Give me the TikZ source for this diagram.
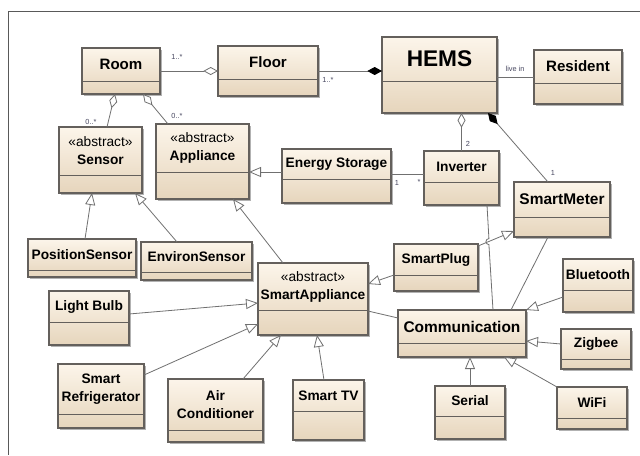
\documentclass[tikz,border=0pt]{standalone}
\usepackage{fontspec}
\setmainfont{Liberation Sans}
\usetikzlibrary{positioning, arrows.meta, calc, shadows}
\definecolor{classTop}{RGB}{252,245,234}
\definecolor{classBottom}{RGB}{230,213,188}
\definecolor{classEdge}{RGB}{100,96,92}
\definecolor{linkGray}{RGB}{112,112,112}
\definecolor{multGray}{RGB}{70,70,95}
\def\px{0.75pt}

% class box: name, x, y (top left), width, height, name compartment height, text
\newcommand{\umlclass}[7]{%
	\node[cls, anchor=north west, minimum width=#4*\px, minimum height=#5*\px] (#1) at (#2,#3) {};
	\draw[classEdge, line width=0.6pt] ($(#1.north west)+(0,#6)$) -- ($(#1.north east)+(0,#6)$);
	\node[clsname] (#1-name) at ($(#1.north)+(0,#6/2)$) {#7};
}

\begin{document}
\begin{tikzpicture}[x=0.75pt, y=-0.75pt,
				cls/.style={draw=classEdge, line width=0.8pt, top color=classTop, bottom color=classBottom, inner sep=0pt, outer sep=0pt,
					drop shadow={shadow xshift=1.2pt, shadow yshift=-1.2pt, fill=black, opacity=0.3}},
				clsname/.style={inner sep=0pt, align=center, font=\bfseries\fontsize{10.3}{13.5}\selectfont},
				big/.style={font=\bfseries\fontsize{11.4}{13}\selectfont},
				assoc/.style={draw=linkGray, line width=0.6pt},
				gen/.style={assoc, -{Triangle[length=9pt, width=7.5pt, fill=white]}},
				agg/.style={assoc, {Diamond[length=11pt, width=6pt, fill=white]}-},
				comp/.style={assoc, {Diamond[length=11pt, width=6pt, black]}-},
				mult/.style={inner sep=0pt, text=multGray, font=\fontsize{5.5}{6}\selectfont}]
	\useasboundingbox (0,0) rectangle (640,455);
	\fill[white] (0,0) rectangle (640,455);
	\draw[black!65, line width=0.6pt] (640,11) -- (8,11) -- (8,455);

	\umlclass{room}{82}{48}{78}{46}{33}{\fontsize{11.3}{13}\selectfont Room}
	\umlclass{floor}{218}{46}{100}{50}{33}{\fontsize{11.3}{13}\selectfont Floor}
	\umlclass{hems}{382}{37}{115}{76}{44}{\fontsize{17}{19}\selectfont HEMS}
	\umlclass{resident}{534}{50}{88}{54}{33}{\fontsize{11.3}{13}\selectfont Resident}
	\umlclass{sensor}{59}{127}{83}{66}{48}{{\mdseries «abstract»}\\Sensor}
	\umlclass{appliance}{156}{124}{93}{75}{48}{{\mdseries «abstract»}\\Appliance}
	\umlclass{estore}{282}{149}{109}{54}{30}{Energy Storage}
	\umlclass{inverter}{424}{151}{75}{54}{31}{Inverter}
	\umlclass{meter}{514}{182}{96}{55}{35}{\fontsize{11.6}{13}\selectfont SmartMeter}
	\umlclass{possens}{28}{239}{108}{38}{31}{PositionSensor}
	\umlclass{envsens}{141}{242}{111}{38}{30}{EnvironSensor}
	\umlclass{plug}{394}{244}{84}{47}{31}{SmartPlug}
	\umlclass{bt}{563}{259}{70}{53}{31}{Bluetooth}
	\umlclass{sapp}{258}{263}{110}{72}{47}{{\mdseries «abstract»}\\SmartAppliance}
	\umlclass{bulb}{49}{291}{80}{54}{31}{Light Bulb}
	\umlclass{comm}{398}{310}{128}{47}{33}{\fontsize{11.6}{13}\selectfont Communication}
	\umlclass{zigbee}{561}{329}{70}{40}{30}{Zigbee}
	\umlclass{fridge}{58}{364}{86}{64}{50}{Smart\\Refrigerator}
	\umlclass{aircon}{168}{379}{95}{63}{51}{Air\\Conditioner}
	\umlclass{tv}{293}{380}{71}{60}{31}{Smart TV}
	\umlclass{serial}{435}{386}{70}{53}{30}{Serial}
	\umlclass{wifi}{557}{387}{70}{42}{31}{WiFi}

	\draw[agg] (floor.west) -- (room.east);
	\draw[comp] (hems.west |- floor.east) -- (floor.east);
	\draw[assoc] (hems.east |- resident.west) -- (resident.west);
	\draw[agg] (inverter.north |- hems.south) -- (inverter.north);
	\draw[comp] ($(hems.south east)+(-9,0)$) -- ($(meter.north)+(-14,0)$);
	\draw[agg] ($(room.south)+(-6,0)$) -- ($(sensor.north)+(6.5,0)$);
	\draw[agg] ($(room.south)+(22,0)$) -- ($(appliance.north)+(-34.5,0)$);

	\draw[gen] ($(possens.north)+(3,0)$) -- ($(sensor.south)+(-8.5,0)$);
	\draw[gen] ($(envsens.north)+(-19.5,0)$) -- ($(sensor.south)+(34.5,0)$);
	\draw[gen] ($(estore.west)+(0,-4)$) coordinate (es-w) -- (es-w -| appliance.east);
	\draw[assoc] ($(estore.east)+(0,-2)$) coordinate (es-e) -- (es-e -| inverter.west);
	\draw[gen] ($(sapp.north)+(-30,0)$) -- ($(appliance.south)+(30.5,0)$);
	\draw[gen] ($(plug.west)+(0,7.5)$) -- ($(sapp.east)+(0,-15)$);
	\draw[gen] ($(plug.north east)+(0,2)$) -- ($(meter.south west)+(0,-6)$);

	\coordinate (iv-s) at ($(inverter.south)+(25.5,0)$);
	\coordinate (cm-n) at ($(comm.north)+(31,0)$);
	\draw[assoc] (iv-s) -- ($(iv-s)!0.32!(cm-n)$) arc[start angle=270, end angle=90, radius=3] -- (cm-n);
	\draw[assoc] ($(meter.south)+(-14,0)$) -- ($(comm.north)+(49,0)$);
	\draw[assoc] ($(sapp.east)+(0,12)$) -- ($(comm.west)+(0,-15.5)$);

	\draw[gen] ($(bt.south west)+(0,-15)$) -- (comm.north east);
	\draw[gen] ($(zigbee.west)+(0,-5)$) -- ($(comm.east)+(0,7.5)$);
	\draw[gen] (wifi.north west) -- ($(comm.south east)+(-22,0)$);
	\draw[gen] (serial.north) -- (serial.north |- comm.south);

	\draw[gen] ($(bulb.east)+(0,-4)$) -- ($(sapp.west)+(0,4)$);
	\draw[gen] ($(fridge.north east)+(0,11)$) -- ($(sapp.south west)+(0,-11)$);
	\draw[gen] ($(aircon.north east)+(-20,0)$) -- ($(sapp.south west)+(23,0)$);
	\draw[gen] ($(tv.north)+(-4.5,0)$) -- ($(sapp.south)+(4,0)$);

	\node[mult] (m-room) at (177,57) {1..*};
	\node[mult] (m-floor) at (328,80) {1..*};
	\node[mult] (m-live) at (515,69) {live in};
	\node[mult] (m-inv) at (468,144) {2};
	\node[mult] (m-meter) at (553,173) {1};
	\node[mult] (m-sensor) at (91,122) {0..*};
	\node[mult] (m-appl) at (177,116) {0..*};
	\node[mult] (m-es) at (397,183) {1};
	\node[mult] (m-iv) at (419,182) {*};
\end{tikzpicture}
\end{document}
